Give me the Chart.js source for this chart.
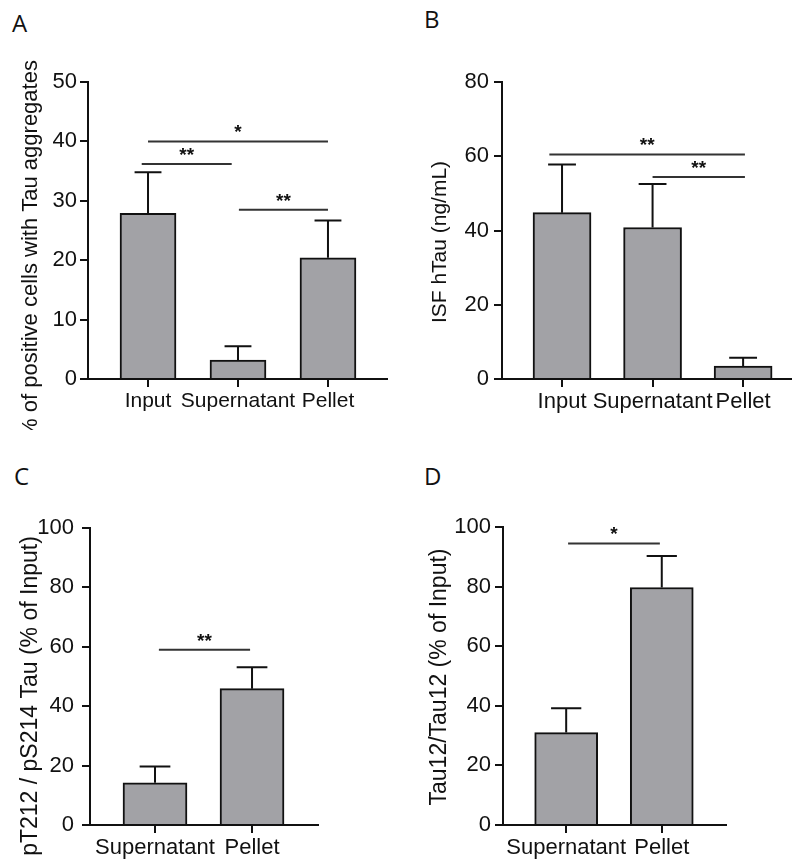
<!DOCTYPE html>
<html>
<head>
<meta charset="utf-8">
<script src="https://cdn.jsdelivr.net/npm/chart.js@4.4.1/dist/chart.umd.min.js"></script>
<style>
  body { margin: 0; background: #fff; width: 792px; height: 861px; position: relative; overflow: hidden; }
  canvas { position: absolute; }
  .tag { position: absolute; font-family: 'Open Sans', 'Noto Sans', sans-serif; font-size: 24px; line-height: 1; color: #111; }
</style>
</head>
<body>
<div class="tag" style="left:12px;top:11px">A</div>
<div class="tag" style="left:424px;top:7px">B</div>
<div class="tag" style="left:14px;top:464px">C</div>
<div class="tag" style="left:424px;top:464px">D</div>

<canvas id="chartA" width="396" height="430" style="left:0;top:0"></canvas>
<canvas id="chartB" width="396" height="430" style="left:396px;top:0"></canvas>
<canvas id="chartC" width="396" height="421" style="left:0;top:440px"></canvas>
<canvas id="chartD" width="396" height="421" style="left:396px;top:440px"></canvas>

<script>
// values (mean, SEM)
const categoriesAB = ['Input', 'Supernatant', 'Pellet'];
const categoriesCD = ['Supernatant', 'Pellet'];

const meansA = [27.9, 3.2, 20.4];
const errorsA = [6.9, 2.3, 6.3];
// [from, to, level, mark]
const sigA = [[0, 2, 40, '*'], [-0.07, 0.93, 36.2, '**'], [1.01, 2, 28.5, '**']];

const meansB = [44.8, 40.8, 3.5];
const errorsB = [13, 11.7, 2.2];
const sigB = [[-0.14, 2.02, 60.5, '**'], [1.0, 2.02, 54.4, '**']];

const meansC = [14.2, 45.9];
const errorsC = [5.5, 7.2];
const sigC = [[0.04, 0.98, 59, '**']];

const meansD = [31, 79.7];
const errorsD = [8.2, 10.6];
const sigD = [[0.02, 0.98, 94.5, '*']];

const FONT = "'Liberation Sans', Arial, sans-serif";
const INK = '#111';

function makePanel(canvasId, p) {
    // error bars, significance lines and the y title are drawn after the bars
    const decor = {
        id: 'decor',
        afterDatasetsDraw(chart) {
            const { ctx } = chart;
            const x = chart.scales.x;
            const y = chart.scales.y;
            const bars = chart.getDatasetMeta(0).data;
            ctx.save();
            ctx.strokeStyle = INK;
            ctx.fillStyle = INK;
            ctx.lineWidth = 2;
            bars.forEach((bar, i) => {
                const top = y.getPixelForValue(p.means[i] + p.errors[i]);
                const half = bar.width * 0.24;
                ctx.beginPath();
                ctx.moveTo(bar.x, bar.y);
                ctx.lineTo(bar.x, top);
                ctx.moveTo(bar.x - half, top);
                ctx.lineTo(bar.x + half, top);
                ctx.stroke();
            });

            ctx.strokeStyle = '#333';
            ctx.lineWidth = 2;
            ctx.font = `bold 19px ${FONT}`;
            ctx.textAlign = 'center';
            ctx.textBaseline = 'alphabetic';
            p.sig.forEach(([from, to, level, mark]) => {
                const x1 = x.getPixelForValue(from);
                const x2 = x.getPixelForValue(to);
                const yy = y.getPixelForValue(level);
                ctx.beginPath();
                ctx.moveTo(x1, yy);
                ctx.lineTo(x2, yy);
                ctx.stroke();
                ctx.fillText(mark, (x1 + x2) / 2, yy - 3);
            });

            ctx.translate(p.titleX, p.titleY);
            ctx.rotate(-Math.PI / 2);
            ctx.font = `${p.titleSize}px ${FONT}`;
            ctx.textBaseline = 'middle';
            ctx.fillText(chart.options.scales.y.title.text, 0, 0);
            ctx.restore();
        }
    };

    return new Chart(document.getElementById(canvasId), {
        type: 'bar',
        data: {
            datasets: [{
                data: p.means.map((v, i) => ({ x: i, y: v })),
                backgroundColor: '#a2a2a6',
                borderColor: INK,
                borderWidth: 2,
                borderSkipped: 'bottom',
                barThickness: p.barWidth
            }]
        },
        options: {
            responsive: false,
            animation: false,
            events: [],
            layout: { padding: p.pad },
            plugins: {
                legend: { display: false },
                tooltip: { enabled: false }
            },
            scales: {
                x: {
                    type: 'linear',
                    min: p.xMin,
                    max: p.xMax,
                    offset: false,
                    afterBuildTicks: s => { s.ticks = p.cats.map((c, i) => ({ value: i })); },
                    afterFit: s => { s.height = p.xHeight; },
                    grid: { drawOnChartArea: false, offset: false, color: INK, lineWidth: 2, tickLength: 8 },
                    border: { color: INK, width: 2 },
                    ticks: {
                        callback: v => p.cats[v],
                        color: INK,
                        font: { family: FONT, size: p.catSize },
                        padding: 2,
                        autoSkip: false,
                        maxRotation: 0
                    }
                },
                y: {
                    min: 0,
                    max: p.yMax,
                    afterFit: s => { s.width = p.yWidth; },
                    title: { display: false, text: p.title },
                    grid: { drawOnChartArea: false, color: INK, lineWidth: 2, tickLength: 8 },
                    border: { color: INK, width: 2 },
                    ticks: {
                        stepSize: p.yStep,
                        color: INK,
                        font: { family: FONT, size: 22 },
                        padding: p.tickPad
                    }
                }
            }
        },
        plugins: [decor]
    });
}

makePanel('chartA', {
    cats: categoriesAB, means: meansA, errors: errorsA, sig: sigA,
    title: '% of positive cells with Tau aggregates', titleSize: 22, titleX: 31, titleY: 249,
    yMax: 50, yStep: 10, xMin: -0.667, xMax: 2.656, barWidth: 56, catSize: 21,
    pad: { left: 0, top: 82, right: 9, bottom: 0 }, yWidth: 88, xHeight: 51, tickPad: 3
});

makePanel('chartB', {
    cats: categoriesAB, means: meansB, errors: errorsB, sig: sigB,
    title: 'ISF hTau (ng/mL)', titleSize: 21, titleX: 44, titleY: 242,
    yMax: 80, yStep: 20, xMin: -0.663, xMax: 2.54, barWidth: 58, catSize: 22,
    pad: { left: 0, top: 82, right: 0, bottom: 0 }, yWidth: 106, xHeight: 51, tickPad: 5
});

makePanel('chartC', {
    cats: categoriesCD, means: meansC, errors: errorsC, sig: sigC,
    title: 'pT212 / pS214 Tau (% of Input)', titleSize: 23, titleX: 31, titleY: 256,
    yMax: 100, yStep: 20, xMin: -0.67, xMax: 1.68, barWidth: 64, catSize: 22,
    pad: { left: 0, top: 88, right: 78, bottom: 0 }, yWidth: 90, xHeight: 36, tickPad: 8
});

makePanel('chartD', {
    cats: categoriesCD, means: meansD, errors: errorsD, sig: sigD,
    title: 'Tau12/Tau12 (% of Input)', titleSize: 23, titleX: 44, titleY: 237,
    yMax: 100, yStep: 20, xMin: -0.661, xMax: 1.672, barWidth: 63, catSize: 22,
    pad: { left: 0, top: 87, right: 66, bottom: 0 }, yWidth: 107, xHeight: 36, tickPad: 4
});
</script>
</body>
</html>
